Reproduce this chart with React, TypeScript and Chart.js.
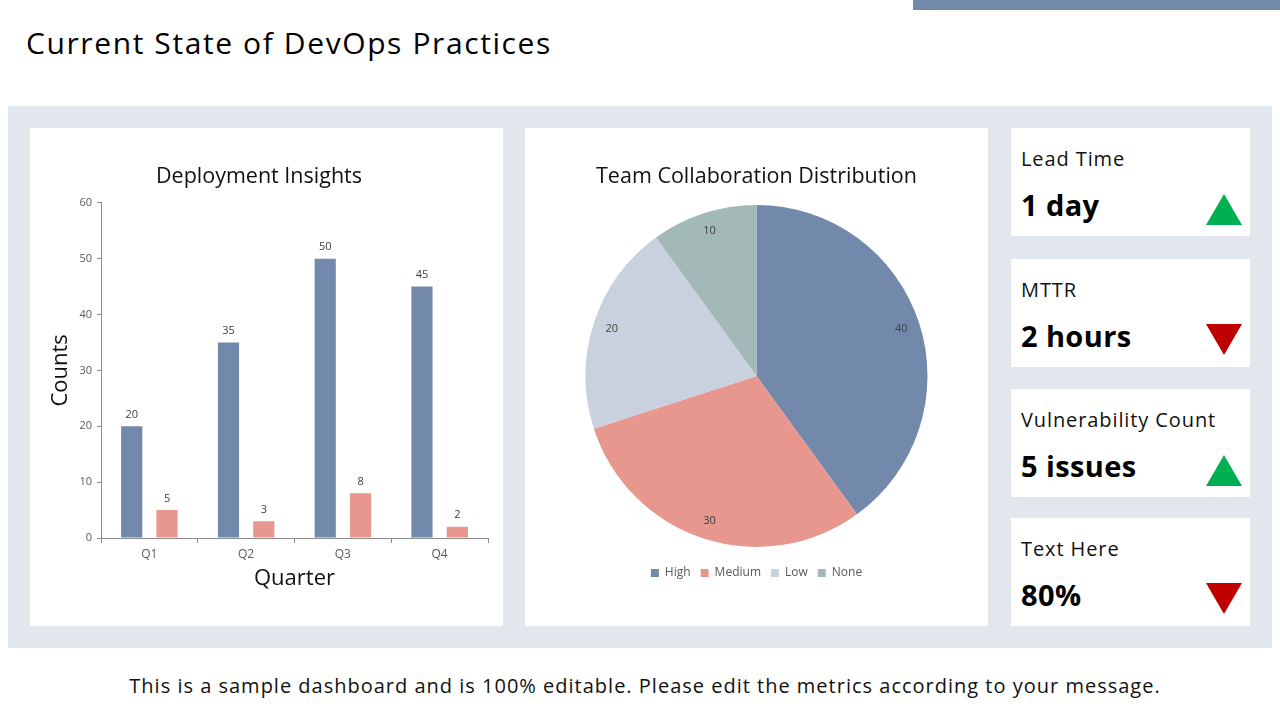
import React, { useEffect, useRef } from "react";
import { Chart, registerables } from "chart.js";

Chart.register(...registerables);

const FONT = "'Open Sans', 'DejaVu Sans', sans-serif";

// ---- data ----
const quarters = ["Q1", "Q2", "Q3", "Q4"];
const deploymentsSeries = [20, 35, 50, 45];
const failuresSeries = [5, 3, 8, 2];
const yMax = 60;
const yStep = 10;

const collabLabels = ["High", "Medium", "Low", "None"];
const collabValues = [40, 30, 20, 10];

const kpiTitles = ["Lead Time", "MTTR", "Vulnerability Count", "Text Here"];
const kpiValues = ["1 day", "2 hours", "5 issues", "80%"];
const kpiTrends = ["up", "down", "up", "down"];

// ---- styles ----
const BLUE = "#7389AB";
const PINK = "#E8978F";
const LIGHT = "#C9D1DE";
const SAGE = "#A3B9B7";
const PANEL = "#E2E7EE";

const barLabelPlugin = {
  id: "barValueLabels",
  afterDatasetsDraw(chart: any) {
    const ctx = chart.ctx;
    ctx.save();
    ctx.font = `11px ${FONT}`;
    ctx.fillStyle = "#404040";
    ctx.textAlign = "center";
    ctx.textBaseline = "bottom";
    chart.data.datasets.forEach((ds: any, i: number) => {
      const meta = chart.getDatasetMeta(i);
      meta.data.forEach((el: any, j: number) => {
        ctx.fillText(String(ds.data[j]), el.x, el.y - 6);
      });
    });
    ctx.restore();
  },
};

const pieLabelPlugin = {
  id: "pieValueLabels",
  afterDatasetsDraw(chart: any) {
    const ctx = chart.ctx;
    const meta = chart.getDatasetMeta(0);
    const values = chart.data.datasets[0].data;
    ctx.save();
    ctx.font = `11px ${FONT}`;
    ctx.fillStyle = "#404040";
    ctx.textAlign = "center";
    ctx.textBaseline = "middle";
    meta.data.forEach((arc: any, j: number) => {
      const p = arc.getProps(["x", "y", "startAngle", "endAngle", "outerRadius"], true);
      const mid = (p.startAngle + p.endAngle) / 2;
      const r = p.outerRadius * 0.89;
      ctx.fillText(String(values[j]), p.x + Math.cos(mid) * r, p.y + Math.sin(mid) * r);
    });
    ctx.restore();
  },
};

function BarChart() {
  const ref = useRef<HTMLCanvasElement>(null);
  useEffect(() => {
    const chart = new Chart(ref.current!, {
      type: "bar",
      data: {
        labels: quarters,
        datasets: [
          { label: "Deployments", data: deploymentsSeries, backgroundColor: BLUE, categoryPercentage: 0.73, barPercentage: 0.6 },
          { label: "Failures", data: failuresSeries, backgroundColor: PINK, categoryPercentage: 0.73, barPercentage: 0.6 },
        ],
      },
      options: {
        responsive: false,
        animation: false,
        layout: { padding: { right: 15, left: 0, top: 0, bottom: 0 } },
        plugins: {
          legend: { display: false },
          tooltip: { enabled: false },
          title: {
            display: true,
            text: "Deployment Insights",
            color: "#111",
            font: { family: FONT, size: 21.5, weight: "normal" },
            padding: { top: 36, bottom: 13 },
          },
        },
        scales: {
          x: {
            grid: { display: true, drawOnChartArea: false, drawTicks: true, tickLength: 5, color: "#8C8C8C", offset: true },
            border: { color: "#8C8C8C" },
            ticks: { color: "#595959", font: { family: FONT, size: 12 }, padding: 4 },
            title: {
              display: true,
              text: "Quarter",
              color: "#111",
              font: { family: FONT, size: 22 },
              padding: { top: 0, bottom: 34 },
            },
            afterFit: (s: any) => { s.height = 88; },
          },
          y: {
            min: 0,
            max: yMax,
            grid: { display: true, drawOnChartArea: false, drawTicks: true, tickLength: 4, color: "#8C8C8C" },
            border: { color: "#8C8C8C" },
            ticks: { stepSize: yStep, color: "#595959", font: { family: FONT, size: 11 }, padding: 5 },
            title: {
              display: true,
              text: "Counts",
              color: "#111",
              font: { family: FONT, size: 22 },
              padding: { top: 18, bottom: 0 },
            },
            afterFit: (s: any) => { s.width = 71; },
          },
        },
      } as any,
      plugins: [barLabelPlugin],
    });
    return () => chart.destroy();
  }, []);
  return <canvas ref={ref} width={473} height={498} style={{ width: 473, height: 498, display: "block" }} />;
}

function PieChart() {
  const ref = useRef<HTMLCanvasElement>(null);
  useEffect(() => {
    const chart = new Chart(ref.current!, {
      type: "pie",
      data: {
        labels: collabLabels,
        datasets: [
          {
            data: collabValues,
            backgroundColor: [BLUE, PINK, LIGHT, SAGE],
            borderWidth: 0,
            radius: 171,
          },
        ],
      },
      options: {
        responsive: false,
        animation: false,
        layout: { padding: { bottom: 37 } },
        plugins: {
          tooltip: { enabled: false },
          title: {
            display: true,
            text: "Team Collaboration Distribution",
            color: "#111",
            font: { family: FONT, size: 21.5, weight: "normal" },
            padding: { top: 36, bottom: 5 },
          },
          legend: {
            display: true,
            position: "bottom",
            labels: {
              boxWidth: 8,
              boxHeight: 8,
              padding: 10,
              color: "#595959",
              font: { family: FONT, size: 12 },
            },
          },
        },
      } as any,
      plugins: [pieLabelPlugin],
    });
    return () => chart.destroy();
  }, []);
  return <canvas ref={ref} width={463} height={498} style={{ width: 463, height: 498, display: "block" }} />;
}

function Triangle({ up }: { up: boolean }) {
  return (
    <svg width={36} height={31} style={{ position: "absolute", right: 8, top: up ? 66 : 65 }}>
      {up ? (
        <polygon points="18,0 36,31 0,31" fill="#00B050" />
      ) : (
        <polygon points="0,0 36,0 18,31" fill="#C00000" />
      )}
    </svg>
  );
}

const cardTops = [128, 259, 389, 518];

export default function App() {
  return (
    <div style={{ position: "absolute", left: 0, top: 0, width: 1280, height: 720, background: "#fff", fontFamily: FONT, overflow: "hidden" }}>
      <div style={{ position: "absolute", left: 913, top: 0, width: 367, height: 10, background: BLUE }} />
      <div style={{ position: "absolute", left: 26, top: 25, fontSize: 30, lineHeight: "36px", letterSpacing: "1.6px", color: "#000", whiteSpace: "nowrap" }}>
        Current State of DevOps Practices
      </div>
      <div style={{ position: "absolute", left: 8, top: 106, width: 1264, height: 542, background: PANEL }} />
      <div style={{ position: "absolute", left: 30, top: 128, width: 473, height: 498, background: "#fff" }}>
        <BarChart />
      </div>
      <div style={{ position: "absolute", left: 525, top: 128, width: 463, height: 498, background: "#fff" }}>
        <PieChart />
      </div>
      {kpiTitles.map((t, i) => (
        <div key={t} style={{ position: "absolute", left: 1011, top: cardTops[i], width: 239, height: 108, background: "#fff" }}>
          <div style={{ position: "absolute", left: 10, top: 21, fontSize: 20, lineHeight: "20px", letterSpacing: "0.9px", color: "#111", whiteSpace: "nowrap" }}>{t}</div>
          <div style={{ position: "absolute", left: 10, top: 62, fontSize: 29, lineHeight: "29px", letterSpacing: "0.4px", fontWeight: 700, color: "#000", whiteSpace: "nowrap" }}>{kpiValues[i]}</div>
          <Triangle up={kpiTrends[i] === "up"} />
        </div>
      ))}
      <div style={{ position: "absolute", left: 0, top: 672, width: 1290, textAlign: "center", fontSize: 20, lineHeight: "28px", letterSpacing: "1px", color: "#111", whiteSpace: "nowrap" }}>
        This is a sample dashboard and is 100% editable. Please edit the metrics according to your message.
      </div>
    </div>
  );
}
